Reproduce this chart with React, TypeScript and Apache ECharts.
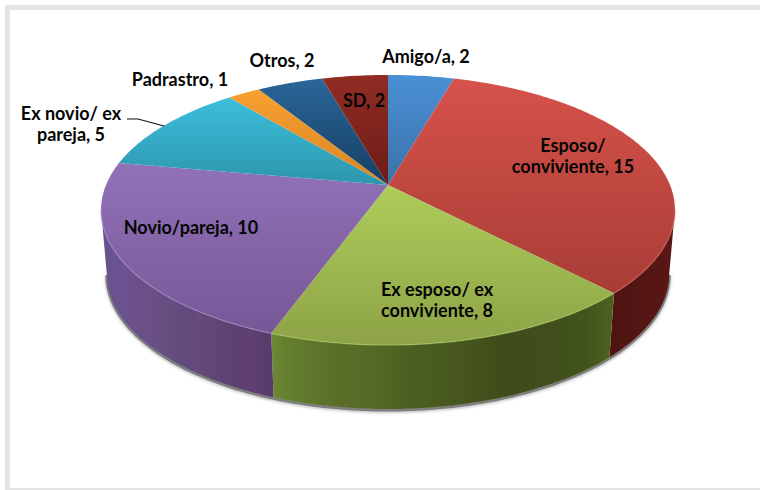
import React, { useEffect, useRef } from "react";
import * as echarts from "echarts";

const categories = ["Amigo/a", "Esposo/ conviviente", "Ex esposo/ ex conviviente", "Novio/pareja", "Ex novio/ ex pareja", "Padrastro", "Otros", "SD"];
const values = [2, 15, 8, 10, 5, 1, 2, 2];
const labelTexts = ["Amigo/a, 2", "Esposo/\nconviviente, 15", "Ex esposo/ ex\nconviviente, 8", "Novio/pareja, 10", "Ex novio/ ex\npareja, 5", "Padrastro, 1", "Otros, 2", "SD, 2"];

const labelCentres = [[426, 56], [573, 155], [437, 299], [191, 227], [71, 123], [180, 79], [282, 60], [364, 100]];
const topColours = [
  ["#4a90d6", "#3a72a8"], ["#d6524a", "#a83d36"], ["#aecd5a", "#8da347"], ["#9172b8", "#775796"],
  ["#3dbedd", "#2c96ac"], ["#fba031", "#d68526"], ["#2a6698", "#153f63"], ["#922c23", "#6b1b18"],
];
const rimColours = ["#5a9ee0", "#d8655e", "#aecb66", "#a68ccb", "#6ed0e6", "#ffbd6a", "#4a82b0", "#b0524a"];
const wallStops: [number, string][][] = [
  [[0, "#2a5a8a"], [1, "#2a5a8a"]],
  [[0, "#4e1412"], [0.6, "#551614"], [1, "#5a1715"]],
  [[0, "#6f8a35"], [0.04, "#64802f"], [0.16, "#5c7029"], [0.3, "#566826"], [0.42, "#4b5e1f"], [0.56, "#46561e"], [0.68, "#3e4c19"], [0.8, "#3f4e1a"], [0.92, "#43541b"], [1, "#4d6220"]],
  [[0, "#68548e"], [0.14, "#6b5290"], [0.22, "#6d4f88"], [0.42, "#64507f"], [0.5, "#5f4a7c"], [0.56, "#674a7a"], [0.75, "#5c4270"], [0.88, "#5f3f70"], [1, "#553a6a"]],
  [[0, "#1e7f94"], [1, "#1e7f94"]],
  [[0, "#b06a1a"], [1, "#b06a1a"]],
  [[0, "#153f63"], [1, "#153f63"]],
  [[0, "#5a1715"], [1, "#5a1715"]],
];

const APEX_X = 388, APEX_Y = 185, A = 282, B = 130.4, P = 0.185, DEPTH = 64, BOTTOM_SCALE = 0.98;
const VIS_FROM = 100.7, VIS_TO = 259.3;

const rim = (deg: number) => {
  const t = (deg * Math.PI) / 180;
  const w = 1 + P * Math.cos(t);
  return [APEX_X + (A * Math.sin(t)) / w, APEX_Y - (B * Math.cos(t)) / w];
};
const lower = (p: number[]) => [APEX_X + (p[0] - APEX_X) * BOTTOM_SCALE, p[1] + DEPTH];
const arc = (a: number, b: number) => {
  const pts: number[][] = [];
  const n = Math.max(2, Math.ceil(Math.abs(b - a)));
  for (let i = 0; i <= n; i++) pts.push(rim(a + ((b - a) * i) / n));
  return pts;
};
const grad = (x2: number, y2: number, stops: [number, string][]) =>
  new echarts.graphic.LinearGradient(0, 0, x2, y2, stops.map(([offset, color]) => ({ offset, color })));

const total = values.reduce((s, v) => s + v, 0);

function renderSlice(params: any, api: any) {
  const i = params.dataIndex;
  let before = 0;
  for (let k = 0; k < i; k++) before += values[k];
  const start = (before / total) * 360;
  const end = ((before + api.value(0)) / total) * 360;
  const children: any[] = [];

  const from = Math.max(start, VIS_FROM), to = Math.min(end, VIS_TO);
  if (to > from) {
    const upper = arc(from, to);
    const bottom = upper.map(lower);
    children.push({
      type: "polyline", z2: 0, silent: true,
      shape: { points: bottom.map((p) => [p[0], p[1] + 1]) },
      style: { stroke: "rgba(70,70,70,0.6)", lineWidth: 3, fill: "none", shadowBlur: 3, shadowColor: "rgba(0,0,0,0.5)", shadowOffsetY: 1 },
    });
    children.push({
      type: "polygon", z2: 1,
      shape: { points: upper.concat(bottom.slice().reverse()) },
      style: { fill: grad(1, 0, wallStops[i]) },
    });
    children.push({
      type: "polyline", z2: 3, silent: true,
      shape: { points: upper },
      style: { stroke: rimColours[i], lineWidth: 1.5, opacity: 0.5, fill: "none" },
    });
  }

  children.push({
    type: "polygon", z2: 2,
    shape: { points: [[APEX_X, APEX_Y], ...arc(start, end)] },
    style: { fill: grad(0, 1, [[0, topColours[i][0]], [1, topColours[i][1]]]) },
  });

  children.push({
    type: "text", z2: 6, silent: true,
    style: {
      text: labelTexts[i], x: labelCentres[i][0], y: labelCentres[i][1],
      align: "center", verticalAlign: "middle",
      font: 'bold 18px Lato', lineHeight: 21, fill: "#050505",
    },
  });
  return { type: "group", children };
}

export default function App() {
  const ref = useRef<HTMLDivElement>(null);
  useEffect(() => {
    const chart = echarts.init(ref.current!, undefined, { renderer: "svg" });
    chart.setOption({
      animation: false,
      backgroundColor: "#ffffff",
      graphic: [
        { type: "rect", z: 0, shape: { x: 7.5, y: 7.5, width: 800, height: 483 }, style: { fill: "#ffffff", stroke: "#e4e4e4", lineWidth: 5 } },
        { type: "polyline", z: 10, shape: { points: [[127, 119], [138, 119], [164, 126]] }, style: { stroke: "#111111", lineWidth: 1.2, fill: "none" } },
      ],
      series: [{
        type: "custom",
        coordinateSystem: "none",
        renderItem: renderSlice,
        data: categories.map((name, i) => ({ name, value: [values[i]] })),
      }],
    });
    return () => chart.dispose();
  }, []);
  return <div ref={ref} style={{ position: "absolute", left: 0, top: 0, width: 760, height: 490 }} />;
}
